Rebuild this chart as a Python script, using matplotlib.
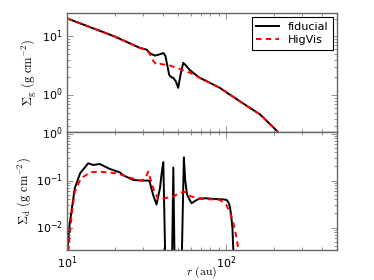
import matplotlib
matplotlib.use("Agg")
import matplotlib.pyplot as plt

plt.style.use("classic")
plt.rcParams["mathtext.fontset"] = "cm"
plt.rcParams["font.family"] = ["DejaVu Sans"]

# ---- gas surface density (top panel) ----
r_gas_fid = [10.0, 20.0, 28.8, 31.7, 33.5, 35.7, 38.0, 40.4, 41.6, 43.0, 44.0, 45.5,
             46.7, 48.5, 50.1, 51.8, 53.9, 56.6, 59.0, 62.2, 68.5, 79.3, 91.6,
             122.0, 164.0, 210.0, 240.0]
sig_gas_fid = [20.2, 9.9, 6.35, 5.94, 5.1, 4.7, 4.9, 5.2, 4.7, 3.0, 2.2, 2.0,
               1.97, 1.7, 1.33, 2.2, 3.54, 3.1, 2.7, 2.4, 1.97, 1.62, 1.33,
               0.79, 0.47, 0.245, 0.15]

r_gas_vis = [10.0, 20.0, 28.8, 31.7, 33.2, 35.0, 36.6, 38.4, 44.4, 50.0, 59.4,
             68.5, 79.3, 91.6, 122.0, 164.0, 210.0, 240.0]
sig_gas_vis = [20.2, 9.9, 6.35, 5.9, 5.0, 3.8, 3.3, 3.4, 3.19, 2.85, 2.4,
               1.97, 1.62, 1.33, 0.79, 0.47, 0.245, 0.15]

# ---- dust surface density (bottom panel) ----
r_dust_fid = [10.05, 10.4, 11.2, 12.1, 13.6, 14.6, 16.1, 18.6, 21.5, 22.6, 26.1,
              30.0, 33.0, 34.9, 36.6, 38.5, 39.5, 40.4, 42.3, 45.3, 46.7, 48.1,
              51.8, 54.4, 55.5, 57.0, 60.8, 64.0, 68.5, 75.0, 83.0, 95.0, 101.0,
              104.0, 106.0, 108.0, 110.0, 112.0]
sig_dust_fid = [0.003, 0.012, 0.069, 0.143, 0.233, 0.215, 0.225, 0.177, 0.15, 0.13, 0.103,
                0.1, 0.1, 0.049, 0.031, 0.07, 0.15, 0.245, 1e-4, 1e-4, 0.19, 1e-4,
                1e-4, 0.31, 0.1, 0.05, 0.033, 0.037, 0.042, 0.042, 0.041, 0.040, 0.039,
                0.034, 0.028, 0.018, 0.0097, 0.002]

r_dust_vis = [10.2, 10.7, 11.2, 12.1, 12.7, 14.0, 16.1, 20.6, 26.1, 29.5, 31.0, 32.5,
              34.9, 37.5, 41.0, 46.7, 51.4, 55.2, 59.4, 62.2, 68.5, 80.0, 91.6,
              101.0, 106.0, 111.0, 117.0, 120.0, 122.0]
sig_dust_vis = [0.003, 0.0185, 0.058, 0.103, 0.12, 0.15, 0.155, 0.143, 0.11, 0.10, 0.11, 0.155,
                0.069, 0.04, 0.042, 0.046, 0.055, 0.058, 0.047, 0.045, 0.041, 0.040, 0.039,
                0.030, 0.021, 0.0134, 0.0059, 0.0033, 0.002]

frame_col = "0.4"

fig = plt.figure(figsize=(3.74, 2.8), dpi=100, facecolor="white")
ax1 = fig.add_axes([0.179, 0.530, 0.722, 0.424])
ax2 = fig.add_axes([0.179, 0.106, 0.722, 0.424], sharex=ax1)

for ax in (ax1, ax2):
    ax.set_facecolor("white")
    ax.set_xscale("log")
    ax.set_yscale("log")
    ax.tick_params(which="both", direction="in", top=True, right=True,
                   labelsize=8, color=frame_col, pad=3)
    ax.tick_params(which="major", length=4)
    ax.tick_params(which="minor", length=2)
    for s in ax.spines.values():
        s.set_linewidth(1.0)
        s.set_edgecolor(frame_col)

ax1.plot(r_gas_fid, sig_gas_fid, color="black", lw=1.4, label="fiducial")
ax1.plot(r_gas_vis, sig_gas_vis, color="red", lw=1.4, ls="--", dashes=(4, 3), label="HigVis")
ax2.plot(r_dust_fid, sig_dust_fid, color="black", lw=1.4)
ax2.plot(r_dust_vis, sig_dust_vis, color="red", lw=1.4, ls="--", dashes=(4, 3))

ax1.set_xlim(10, 500)
ax1.set_ylim(0.24, 25)
ax2.set_ylim(0.0033, 1.1)

plt.setp(ax1.get_xticklabels(), visible=False)

ax1.set_ylabel(r"$\Sigma_{\rm g}\ (\rm g\ cm^{-2})$", fontsize=9, labelpad=2)
ax2.set_ylabel(r"$\Sigma_{\rm d}\ (\rm g\ cm^{-2})$", fontsize=9, labelpad=2)
ax2.set_xlabel(r"$r\ (\rm au)$", fontsize=8.5)
ax2.xaxis.set_label_coords(0.5, -0.12)

leg = ax1.legend(loc="upper right", fontsize=8, frameon=True, fancybox=False,
                 handlelength=2.0, borderpad=0.4, labelspacing=0.3,
                 borderaxespad=0.4, numpoints=1)
leg.get_frame().set_edgecolor("black")
leg.get_frame().set_linewidth(0.8)

fig.savefig("out.png", dpi=100, facecolor="white")
